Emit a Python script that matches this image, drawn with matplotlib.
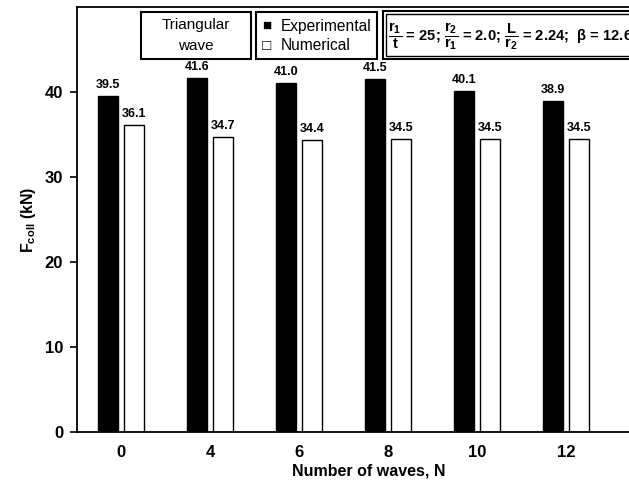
import matplotlib
matplotlib.use("Agg")
import matplotlib.pyplot as plt
import numpy as np
from matplotlib.patches import Rectangle

plt.rcParams['font.family'] = ['Liberation Sans', 'DejaVu Sans']
plt.rcParams['mathtext.fontset'] = 'custom'
plt.rcParams['mathtext.rm'] = 'Liberation Sans'
plt.rcParams['mathtext.bf'] = 'Liberation Sans:bold'
plt.rcParams['mathtext.it'] = 'Liberation Sans:italic'

categories = ['0', '4', '6', '8', '10', '12']
experimental = [39.5, 41.6, 41.0, 41.5, 40.1, 38.9]
numerical = [36.1, 34.7, 34.4, 34.5, 34.5, 34.5]

W, H = 629, 486
fig = plt.figure(figsize=(W/100, H/100), dpi=100)
ax = fig.add_axes([77/W, (H-432)/H, (660-77)/W, 425/H])

x = np.arange(len(categories))
bw = 0.225
off = 0.146
ax.bar(x - off, experimental, bw, color='black', edgecolor='black', linewidth=1)
ax.bar(x + off, numerical, bw, color='white', edgecolor='black', linewidth=1)
for xi, v in zip(x, experimental):
    ax.text(xi - off, v + 0.6, f"{v:.1f}", ha='center', va='bottom', fontsize=9, fontweight='bold')
for xi, v in zip(x, numerical):
    ax.text(xi + off, v + 0.6, f"{v:.1f}", ha='center', va='bottom', fontsize=9, fontweight='bold')

ax.set_xlim(-0.494, -0.494 + (660-77)/89)
ax.set_ylim(0, 50)
ax.set_yticks([0, 10, 20, 30, 40])
ax.set_xticks(x)
ax.set_xticklabels(categories)
ax.tick_params(axis='x', length=0, pad=9, labelsize=12)
ax.tick_params(axis='y', direction='out', length=5, width=1.2, pad=5, labelsize=12)
for lab in ax.get_xticklabels() + ax.get_yticklabels():
    lab.set_fontweight('bold')
for s in ax.spines.values():
    s.set_linewidth(1.3)
ax.set_xlabel('Number of waves, N', fontsize=11.5, fontweight='bold', labelpad=3)
ax.set_ylabel(r'F$_{\mathbf{coll}}$ (kN)', fontsize=11.5, fontweight='bold', labelpad=5)

def px(xp, yp):
    return xp / W, 1 - yp / H

def box(x0, y0, x1, y1, lw=1.5):
    fig.patches.append(Rectangle((x0/W, 1 - y1/H), (x1-x0)/W, (y1-y0)/H,
                                 transform=fig.transFigure, fill=True, facecolor='white',
                                 edgecolor='black', linewidth=lw, zorder=5))

box(141, 12, 251, 59)
box(256, 12, 377, 59)
box(383, 11, 700, 59)
box(386, 14, 700, 56, lw=1.0)

fig.text(*px(196, 35.5), 'Triangular\nwave', ha='center', va='center', fontsize=11,
         linespacing=1.55, zorder=6)
fig.text(*px(262, 26), '\u25a0', ha='left', va='center', fontsize=11, zorder=6)
fig.text(*px(262, 46), '\u25a1', ha='left', va='center', fontsize=11, zorder=6)
fig.text(*px(281, 26), 'Experimental', ha='left', va='center', fontsize=11.2, zorder=6)
fig.text(*px(281, 46), 'Numerical', ha='left', va='center', fontsize=11.2, zorder=6)
fig.text(*px(388, 36),
         r'$\mathbf{\dfrac{r_1}{t}}$ = 25; $\mathbf{\dfrac{r_2}{r_1}}$ = 2.0; $\mathbf{\dfrac{L}{r_2}}$ = 2.24;  $\mathbf{\beta}$ = 12.6°',
         ha='left', va='center', fontsize=10.6, fontweight='bold', zorder=6)

fig.savefig('out.png', dpi=100)
